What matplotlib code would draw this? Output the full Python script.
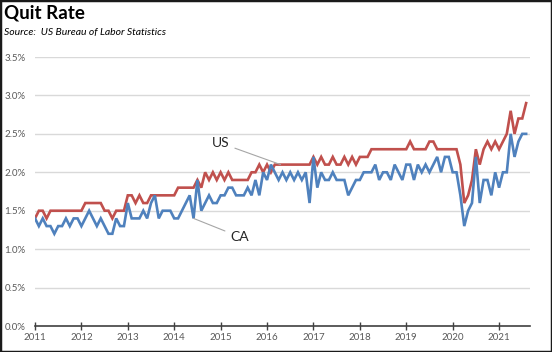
import numpy as np
import matplotlib
matplotlib.use("Agg")
import matplotlib.pyplot as plt
from matplotlib.patches import Rectangle
from matplotlib.ticker import FuncFormatter

# monthly quit rate (%), Jan 2011 - Aug 2021
us_rate = [
    1.4, 1.5, 1.5, 1.4, 1.5, 1.5, 1.5, 1.5, 1.5, 1.5, 1.5, 1.5,  # 2011
    1.5, 1.6, 1.6, 1.6, 1.6, 1.6, 1.5, 1.5, 1.4, 1.5, 1.5, 1.5,  # 2012
    1.7, 1.7, 1.6, 1.7, 1.6, 1.6, 1.7, 1.7, 1.7, 1.7, 1.7, 1.7,  # 2013
    1.7, 1.8, 1.8, 1.8, 1.8, 1.8, 1.9, 1.8, 2.0, 1.9, 2.0, 1.9,  # 2014
    2.0, 1.9, 2.0, 1.9, 1.9, 1.9, 1.9, 1.9, 2.0, 2.0, 2.1, 2.0,  # 2015
    2.1, 2.0, 2.1, 2.1, 2.1, 2.1, 2.1, 2.1, 2.1, 2.1, 2.1, 2.1,  # 2016
    2.2, 2.1, 2.2, 2.1, 2.1, 2.2, 2.1, 2.1, 2.2, 2.1, 2.2, 2.1,  # 2017
    2.2, 2.2, 2.2, 2.3, 2.3, 2.3, 2.3, 2.3, 2.3, 2.3, 2.3, 2.3,  # 2018
    2.3, 2.4, 2.3, 2.3, 2.3, 2.3, 2.4, 2.4, 2.3, 2.3, 2.3, 2.3,  # 2019
    2.3, 2.3, 2.1, 1.6, 1.7, 1.9, 2.3, 2.1, 2.3, 2.4, 2.3, 2.4,  # 2020
    2.3, 2.4, 2.5, 2.8, 2.5, 2.7, 2.7, 2.9,                      # 2021
]
ca_rate = [
    1.4, 1.3, 1.4, 1.3, 1.3, 1.2, 1.3, 1.3, 1.4, 1.3, 1.4, 1.4,  # 2011
    1.3, 1.4, 1.5, 1.4, 1.3, 1.4, 1.3, 1.2, 1.2, 1.4, 1.3, 1.3,  # 2012
    1.6, 1.4, 1.4, 1.4, 1.5, 1.4, 1.6, 1.7, 1.4, 1.5, 1.5, 1.5,  # 2013
    1.4, 1.4, 1.5, 1.6, 1.7, 1.4, 1.9, 1.5, 1.6, 1.7, 1.6, 1.6,  # 2014
    1.7, 1.7, 1.8, 1.8, 1.7, 1.7, 1.7, 1.8, 1.7, 1.9, 1.7, 2.0,  # 2015
    1.9, 2.1, 2.0, 1.9, 2.0, 1.9, 2.0, 1.9, 2.0, 1.9, 2.0, 1.6,  # 2016
    2.2, 1.8, 2.0, 1.9, 1.9, 2.0, 1.9, 1.9, 1.9, 1.7, 1.8, 1.9,  # 2017
    1.9, 2.0, 2.0, 2.0, 2.1, 1.9, 2.0, 2.0, 1.9, 2.1, 2.0, 1.9,  # 2018
    2.1, 2.1, 1.9, 2.1, 2.0, 2.1, 2.0, 2.1, 2.2, 2.0, 2.2, 2.2,  # 2019
    2.0, 2.0, 1.7, 1.3, 1.5, 1.6, 2.2, 1.6, 1.9, 1.9, 1.7, 2.0,  # 2020
    1.8, 2.0, 2.0, 2.5, 2.2, 2.4, 2.5, 2.5,                      # 2021
]
year_labels = [str(y) for y in range(2011, 2022)]
y_ticks = [0.0, 0.5, 1.0, 1.5, 2.0, 2.5, 3.0, 3.5]

plt.rcParams['font.family'] = ['Lato', 'DejaVu Sans']

fig = plt.figure(figsize=(5.52, 3.52), dpi=100)
ax = fig.add_axes([35 / 552, 1 - 326 / 352, 495 / 552, 269 / 352])

months = np.arange(len(us_rate))
ax.plot(months, us_rate, color='#C0504D', lw=1.9, solid_joinstyle='miter', zorder=3)
ax.plot(months, ca_rate, color='#4F81BD', lw=1.9, solid_joinstyle='miter', zorder=3)

ax.set_xlim(0, 128)
ax.set_ylim(0, 3.5)
ax.set_xticks(np.arange(0, 121, 12))
ax.set_xticklabels(year_labels)
ax.set_yticks(y_ticks)
ax.yaxis.set_major_formatter(FuncFormatter(lambda v, p: f"{v:.1f}%"))

for v in y_ticks[1:]:
    ax.axhline(v, color='#d9d9d9', lw=1.0, zorder=1)

for s in ['top', 'right', 'left']:
    ax.spines[s].set_visible(False)
ax.spines['bottom'].set_color('#404040')
ax.spines['bottom'].set_linewidth(1.2)
ax.tick_params(axis='x', direction='inout', length=6, width=1.0, color='#404040',
               labelsize=7, labelcolor='#595959', pad=2)
ax.tick_params(axis='y', length=0, labelsize=7, labelcolor='#595959', pad=7)

# series labels with leader lines
ax.annotate('US', xy=(63.5, us_rate[63]), xytext=(50.3, 2.38), fontsize=10,
            ha='right', va='center', color='#262626',
            arrowprops=dict(arrowstyle='-', color='#a6a6a6', lw=0.8, shrinkA=2, shrinkB=0))
ax.annotate('CA', xy=(41, ca_rate[41]), xytext=(50.5, 1.16), fontsize=10,
            ha='left', va='center', color='#262626',
            arrowprops=dict(arrowstyle='-', color='#a6a6a6', lw=0.8, shrinkA=2, shrinkB=0))

fig.text(4 / 552, 1 - 13 / 352, 'Quit Rate', fontsize=13.5, fontweight='bold',
         ha='left', va='center', color='black')
fig.text(4 / 552, 1 - 32 / 352, 'Source:  US Bureau of Labor Statistics', fontsize=7.5,
         style='italic', ha='left', va='center', color='black')

fig.add_artist(Rectangle((0, 0), 1, 1, transform=fig.transFigure, fill=False,
                         edgecolor='#1a1a1a', lw=2.5))

fig.savefig('out.png', dpi=100)
